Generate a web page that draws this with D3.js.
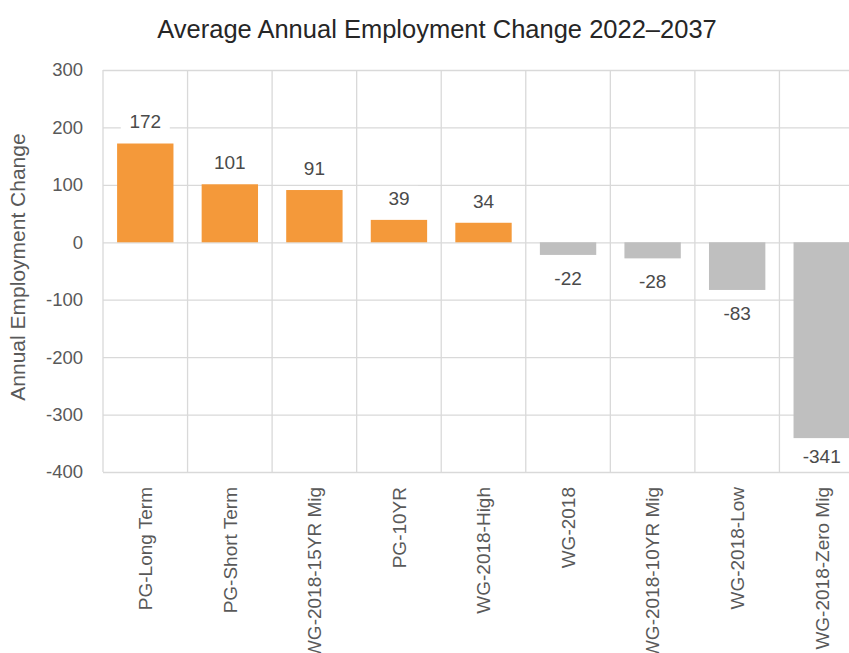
<!DOCTYPE html>
<html>
<head>
<meta charset="utf-8">
<script src="https://cdn.jsdelivr.net/npm/d3@7"></script>
<style>
  html, body { margin: 0; padding: 0; background: #fff; }
  svg { display: block; font-family: "Liberation Sans", Arial, sans-serif; }
</style>
</head>
<body>
<svg id="chart" width="849" height="653"></svg>
<script>
// Scenario names and average annual employment change, 2022–2037
const categories = ["PG-Long Term", "PG-Short Term", "WG-2018-15YR Mig", "PG-10YR", "WG-2018-High",
                    "WG-2018", "WG-2018-10YR Mig", "WG-2018-Low", "WG-2018-Zero Mig"];
const values = [172, 101, 91, 39, 34, -22, -28, -83, -341];
const yTicks = [300, 200, 100, 0, -100, -200, -300, -400];

const svg = d3.select("#chart");
const plot = { left: 103, right: 864, top: 70, bottom: 472 };

const x = d3.scaleBand()
  .domain(categories)
  .range([plot.left, plot.right])
  .paddingInner(1 / 3)
  .paddingOuter(1 / 6);

const y = d3.scaleLinear()
  .domain([-400, 300])
  .range([plot.bottom, plot.top]);

const gridColor = "#d9d9d9";
const textColor = "#595959";
const fmt = d => String(d); // plain hyphen for negatives

// Horizontal gridlines from the y axis
const yAxis = d3.axisLeft(y).tickValues(yTicks).tickSize(-(plot.right - plot.left)).tickPadding(20).tickFormat(fmt);
const gy = svg.append("g").attr("transform", `translate(${plot.left},0)`).call(yAxis);
gy.select(".domain").remove();
gy.selectAll(".tick line").attr("stroke", gridColor).attr("stroke-width", 1.3);
gy.selectAll(".tick text").attr("fill", textColor).style("font-size", "18.5px");

// Vertical gridlines at the band boundaries
const bounds = categories.map(c => x(c) - x.step() * x.paddingInner() / 2).concat([plot.right]);
svg.append("g").selectAll("line").data(bounds).join("line")
  .attr("x1", d => d).attr("x2", d => d)
  .attr("y1", plot.top).attr("y2", plot.bottom)
  .attr("stroke", gridColor).attr("stroke-width", 1.3);

// Bars: orange for growth, grey for decline
svg.append("g").selectAll("rect").data(values).join("rect")
  .attr("x", (d, i) => x(categories[i]))
  .attr("width", x.bandwidth())
  .attr("y", d => y(Math.max(0, d)))
  .attr("height", d => Math.abs(y(d) - y(0)))
  .attr("fill", d => d >= 0 ? "#f4993a" : "#bfbfbf");

// Value labels on a white backing, kept inside the plot area
const labels = svg.append("g").selectAll("g").data(values).join("g")
  .attr("transform", (d, i) => {
    const cx = x(categories[i]) + x.bandwidth() / 2;
    const cy = d >= 0 ? y(d) - 22 : Math.min(y(d) + 23, plot.bottom - 16);
    return `translate(${cx},${cy})`;
  });
labels.append("rect")
  .attr("x", d => -(fmt(d).length * 5.5 + 8))
  .attr("width", d => 2 * (fmt(d).length * 5.5 + 8))
  .attr("y", -12).attr("height", 24)
  .attr("fill", "#fff");
labels.append("text")
  .attr("text-anchor", "middle")
  .attr("dy", "0.36em")
  .attr("fill", "#4a4a4a")
  .style("font-size", "19px")
  .text(fmt);

// Category labels, rotated
const xAxis = d3.axisBottom(x).tickSize(0).tickPadding(0);
const gx = svg.append("g").attr("transform", `translate(0,${plot.bottom})`).call(xAxis);
gx.select(".domain").remove();
gx.selectAll(".tick text")
  .attr("fill", textColor)
  .style("font-size", "19px")
  .attr("text-anchor", "end")
  .attr("transform", "translate(0,15) rotate(-90)")
  .attr("x", 0).attr("y", 0).attr("dy", "0.36em");

// Axis title
svg.append("text")
  .attr("transform", `translate(25,267) rotate(-90)`)
  .attr("text-anchor", "middle")
  .attr("fill", textColor)
  .style("font-size", "21px")
  .text("Annual Employment Change");

// Chart title
svg.append("text")
  .attr("x", 437).attr("y", 38)
  .attr("text-anchor", "middle")
  .attr("fill", "#262626")
  .style("font-size", "25.5px")
  .text("Average Annual Employment Change 2022–2037");
</script>
</body>
</html>
